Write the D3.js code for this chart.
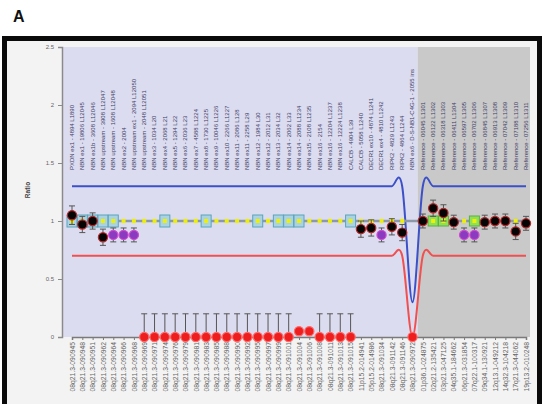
<!DOCTYPE html>
<html>
<head>
<meta charset="utf-8">
<script src="https://cdn.jsdelivr.net/npm/d3@7"></script>
<style>
  body { margin: 0; background: #fff; }
  svg { display: block; font-family: "Liberation Sans", Arial, sans-serif; }
</style>
</head>
<body>
<svg id="chart" width="542" height="404"></svg>
<script>
// probe names above the plot (one per column)
const probeNames = [
  "PXDN ex1 - 4894 L1890", "NBN ex1 - 19806 L12045", "NBN ex1b - 3608 L12046",
  "NBN upstream - 3908 L12047", "NBN upstream - 1608 L12048", "NBN ex2 - 2004",
  "NBN upstream ex1 - 2094 L12050", "NBN upstream - 2048 L12051",
  "NBN ex3 - 1034 L20", "NBN ex4 - 2068 L21", "NBN ex5 - 1294 L22", "NBN ex6 - 2036 L23",
  "NBN ex7 - 4588 L1224", "NBN ex8 - 1730 L1225", "NBN ex9 - 10046 L1226",
  "NBN ex10 - 2266 L1227", "NBN ex11 - 2086 L128", "NBN ex11 - 2258 L29",
  "NBN ex12 - 1984 L30", "NBN ex12 - 2012 L31", "NBN ex13 - 2034 L32", "NBN ex14 - 2062 L33",
  "NBN ex14 - 2088 L1234", "NBN ex15 - 2108 L1235", "NBN ex16 - 2154",
  "NBN ex16 - 12204 L1237", "NBN ex16 - 12224 L1238", "CALCB - 4904 L39",
  "CALCB - 5058 L1240", "DECR1 ex10 - 4874 L1241", "DECR1 ex4 - 4810 L1242",
  "RIPK2 - 4829 L1243", "RIPK2 - 4864 L1244", "NBN ex6 - D-S-NB1-C4G-1 - 2055 ins",
  "Reference - 06045 L1301", "Reference - 06122 L1302", "Reference - 06318 L1303",
  "Reference - 06411 L1304", "Reference - 06597 L1305", "Reference - 06702 L1306",
  "Reference - 06845 L1307", "Reference - 06913 L1308", "Reference - 07042 L1309",
  "Reference - 07188 L1310", "Reference - 07256 L1311"
];

// positions under the axis
const probeLoci = [
  "08q21.3-090945", "08q21.3-090948", "08q21.3-090951", "08q21.3-090962", "08q21.3-090964",
  "08q21.3-090966", "08q21.3-090968", "08q21.3-090969", "08q21.3-090971", "08q21.3-090974",
  "08q21.3-090976", "08q21.3-090979", "08q21.3-090981", "08q21.3-090983", "08q21.3-090985",
  "08q21.3-090988", "08q21.3-090990", "08q21.3-090992", "08q21.3-090995", "08q21.3-090997",
  "08q21.3-090999", "08q21.3-091001", "08q21.3-091004", "08q21.3-091006", "08q21.3-091008",
  "08q21.3-091011", "08q21.3-091013", "08q21.3-091015", "11p15.2-014941", "05p15.2-014986",
  "08q21.3-091034", "08q21.3-091142", "08q21.3-091146", "08q21.3-090972", "01p36.1-024875",
  "02q21.2-135421", "03p21.3-047125", "04q35.1-184662", "06p21.3-031854", "07q22.1-100317",
  "09q34.1-130921", "12q13.1-049212", "14q32.3-104218", "17q21.3-044062", "19p13.2-010248"
];

// sample / reference ratio per probe
const ratio = [
  1.05, 0.97, 1.00, 0.86, 0.88, 0.88, 0.88,
  0, 0, 0, 0, 0, 0, 0, 0, 0, 0, 0, 0, 0, 0, 0, 0.05, 0.05, 0, 0, 0, 0,
  0.93, 0.94, 0.88, 0.95, 0.90, 0,
  1.00, 1.11, 1.07, 0.99, 0.88, 0.88, 0.99, 1.00, 1.00, 0.91, 0.98
];
const ratioErr = [
  0.08, 0.07, 0.07, 0.07, 0.06, 0.06, 0.06,
  0.2, 0.2, 0.2, 0.2, 0.2, 0.2, 0.2, 0.2, 0.2, 0.2, 0.2, 0.2, 0.2, 0.2, 0.2, 0, 0, 0.2, 0.2, 0.2, 0.2,
  0.07, 0.07, 0.06, 0.07, 0.07, 0,
  0.06, 0.07, 0.07, 0.06, 0.06, 0.06, 0.06, 0.06, 0.06, 0.07, 0.06
];
// n = normal, l = reduced, d = deleted
const call = [
  "n", "n", "n", "n", "l", "l", "l",
  "d", "d", "d", "d", "d", "d", "d", "d", "d", "d", "d", "d", "d", "d", "d", "d", "d", "d", "d", "d", "d",
  "n", "n", "l", "n", "n", "d",
  "n", "n", "n", "n", "l", "l", "n", "n", "n", "n", "n"
];

// arbitration limits per probe
const upperLimit = [
  1.3, 1.3, 1.3, 1.3, 1.3, 1.3, 1.3, 1.3, 1.3, 1.3, 1.3, 1.3, 1.3, 1.3, 1.3,
  1.3, 1.3, 1.3, 1.3, 1.3, 1.3, 1.3, 1.3, 1.3, 1.3, 1.3, 1.3, 1.3, 1.3, 1.3,
  1.3, 1.3, 1.3, 0.3, 1.3, 1.3, 1.3, 1.3, 1.3, 1.3, 1.3, 1.3, 1.3, 1.3, 1.3
];
const lowerLimit = [
  0.7, 0.7, 0.7, 0.7, 0.7, 0.7, 0.7, 0.7, 0.7, 0.7, 0.7, 0.7, 0.7, 0.7, 0.7,
  0.7, 0.7, 0.7, 0.7, 0.7, 0.7, 0.7, 0.7, 0.7, 0.7, 0.7, 0.7, 0.7, 0.7, 0.7,
  0.7, 0.7, 0.7, 0.0, 0.7, 0.7, 0.7, 0.7, 0.7, 0.7, 0.7, 0.7, 0.7, 0.7, 0.7
];
const referenceRatio = 1.0;
const tealBoxes = [0, 1, 2, 3, 4, 9, 13, 18, 20, 21, 22, 27];
const greenBoxes = [35, 36, 39];
const firstReferenceProbe = 34;
const yTicks = [0, 0.5, 1, 1.5, 2, 2.5];

const svg = d3.select("#chart");
const idx = probeNames.map((d, i) => i);

const x = d3.scalePoint().domain(idx).range([72, 526]);
const y = d3.scaleLinear().domain([0, 2.5]).range([337, 47]);
const step = x.step();

// frame
svg.append("text").attr("x", 13).attr("y", 22)
  .attr("font-size", 16).attr("font-weight", "bold").attr("fill", "#111").text("A");
svg.append("rect").attr("x", 2).attr("y", 36).attr("width", 540).attr("height", 368).attr("fill", "#0a0a0a");
svg.append("rect").attr("x", 7).attr("y", 41).attr("width", 530).attr("height", 363).attr("fill", "#f3f3f3");

// plot backgrounds
const splitX = x(firstReferenceProbe) - step / 2;
svg.append("rect").attr("x", 63).attr("y", y(2.5)).attr("width", splitX - 63).attr("height", y(0) - y(2.5))
  .attr("fill", "#dcdcf0");
svg.append("rect").attr("x", splitX).attr("y", y(2.5)).attr("width", 530 - splitX).attr("height", y(0) - y(2.5))
  .attr("fill", "#c9c9c9");

// y axis
const yAxis = svg.append("g").attr("transform", "translate(62,0)")
  .call(d3.axisLeft(y).tickValues(yTicks).tickSize(4).tickFormat(d3.format("~g")));
yAxis.select(".domain").attr("stroke", "#8a8a8a").attr("stroke-width", 1.5);
yAxis.selectAll(".tick line").attr("stroke", "#8a8a8a");
yAxis.selectAll(".tick text").attr("font-size", 6).attr("fill", "#666").attr("x", -8);
svg.append("text").attr("transform", "translate(30,190) rotate(-90)")
  .attr("text-anchor", "middle").attr("font-size", 6.5).attr("font-weight", "bold").attr("fill", "#444")
  .text("Ratio");

// x axis with probe loci
const xAxis = svg.append("g").attr("transform", `translate(0,${y(0)})`)
  .call(d3.axisBottom(x).tickSize(3).tickFormat((d) => probeLoci[d]));
xAxis.select(".domain").attr("stroke", "#7a7a7a").attr("stroke-width", 1.5);
xAxis.selectAll(".tick line").attr("stroke", "#7a7a7a");
xAxis.selectAll(".tick text")
  .attr("font-size", 6.8).attr("fill", "#666")
  .attr("transform", "rotate(-90)").attr("text-anchor", "end")
  .attr("x", -5).attr("y", 0).attr("dy", "0.32em");

// probe names above
svg.append("g").selectAll("text").data(idx).enter().append("text")
  .attr("transform", (d) => `translate(${x(d)},170) rotate(-90)`)
  .attr("dy", "0.32em").attr("font-size", 6).attr("fill", "#3e3e66")
  .text((d) => probeNames[d]);

// limit lines
const limitLine = (arr) => d3.line().x((d) => x(d)).y((d) => y(arr[d])).curve(d3.curveCardinal.tension(0));
svg.append("path").attr("d", limitLine(upperLimit)(idx))
  .attr("fill", "none").attr("stroke", "#3c50c8").attr("stroke-width", 2);
svg.append("path").attr("d", limitLine(lowerLimit)(idx))
  .attr("fill", "none").attr("stroke", "#f05050").attr("stroke-width", 2);

// reference ratio line at 1
const refLine = d3.line().x((d) => x(d)).y(() => y(referenceRatio));
svg.append("path").attr("d", refLine(idx.filter((d) => d !== 33)))
  .attr("fill", "none").attr("stroke", "#8c97a8").attr("stroke-width", 2.5);
svg.append("g").selectAll("rect").data(tealBoxes).enter().append("rect")
  .attr("x", (d) => x(d) - 5).attr("y", y(referenceRatio) - 6).attr("width", 10).attr("height", 12)
  .attr("fill", "#a9d3e4").attr("stroke", "#5aa4b8").attr("stroke-width", 1);
svg.append("g").selectAll("rect").data(greenBoxes).enter().append("rect")
  .attr("x", (d) => x(d) - 5).attr("y", y(referenceRatio) - 5).attr("width", 10).attr("height", 10)
  .attr("fill", "#8ee05a").attr("stroke", "#5cb040").attr("stroke-width", 1);
svg.append("g").selectAll("rect").data(idx.filter((d) => d !== 33)).enter().append("rect")
  .attr("x", (d) => x(d) - 2).attr("y", y(referenceRatio) - 2).attr("width", 4).attr("height", 4)
  .attr("fill", "#eef000");

// error bars
const eb = svg.append("g").attr("stroke", "#555").attr("stroke-width", 1);
idx.filter((d) => ratioErr[d] > 0).forEach((d) => {
  const lo = y(Math.max(0, ratio[d] - ratioErr[d]));
  const hi = y(ratio[d] + ratioErr[d]);
  eb.append("line").attr("x1", x(d)).attr("x2", x(d)).attr("y1", lo).attr("y2", hi);
  eb.append("line").attr("x1", x(d) - 3).attr("x2", x(d) + 3).attr("y1", hi).attr("y2", hi);
  if (ratio[d] > 0) eb.append("line").attr("x1", x(d) - 3).attr("x2", x(d) + 3).attr("y1", lo).attr("y2", lo);
});

// ratio points
const fillOf = { n: "#050505", l: "#8a3cc0", d: "#ee1e1e" };
const strokeOf = { n: "#b82828", l: "#d24ad2", d: "#ff6a6a" };
svg.append("g").selectAll("circle").data(idx).enter().append("circle")
  .attr("cx", (d) => x(d)).attr("cy", (d) => y(ratio[d])).attr("r", 4.6)
  .attr("fill", (d) => fillOf[call[d]]).attr("stroke", (d) => strokeOf[call[d]]).attr("stroke-width", 1.2);
</script>
</body>
</html>
